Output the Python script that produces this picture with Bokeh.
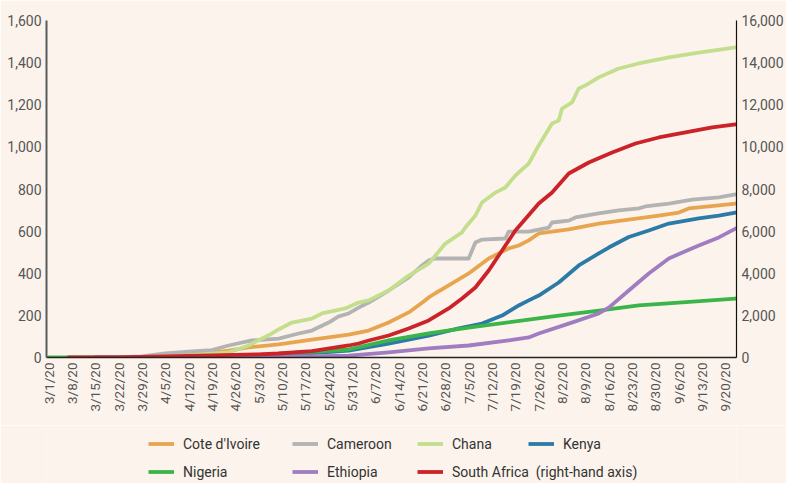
import math
from bokeh.plotting import figure
from bokeh.layouts import column
from bokeh.models import (Range1d, LinearAxis, FixedTicker, NumeralTickFormatter,
                          Legend, LegendItem)
from bokeh.embed import file_html
from bokeh.resources import INLINE

# ---------------- data (day index from 3/1/2020) ----------------
tick_days = list(range(0, 204, 7))
tick_labels = ["3/1/20", "3/8/20", "3/15/20", "3/22/20", "3/29/20", "4/5/20", "4/12/20",
               "4/19/20", "4/26/20", "5/3/20", "5/10/20", "5/17/20", "5/24/20", "5/31/20",
               "6/7/20", "6/14/20", "6/21/20", "6/28/20", "7/5/20", "7/12/20", "7/19/20",
               "7/26/20", "8/2/20", "8/9/20", "8/16/20", "8/23/20", "8/30/20", "9/6/20",
               "9/13/20", "9/20/20"]

cote_days = [14, 21, 28, 35, 42, 49, 54, 60, 69, 79, 90, 96, 102, 108, 112, 114, 116, 120, 126,
             132, 138, 141, 144, 147, 156, 165, 174, 183, 189, 192, 201, 206]
cote_vals = [0, 0, 2, 8, 15, 22, 33, 48, 62, 85, 109, 128, 166, 214, 260, 285, 305, 342, 399,
             470, 518, 532, 556, 589, 608, 636, 655, 674, 688, 708, 722, 731]

cameroon_days = [14, 21, 28, 35, 42, 49, 54, 61, 69, 75, 79, 84, 87, 90, 93, 96, 102, 108, 112,
                 114, 116, 126, 128, 130, 137, 138, 144, 150, 151, 156, 158, 165, 171, 177, 179,
                 186, 193, 201, 206]
cameroon_vals = [0, 0, 5, 20, 28, 35, 57, 81, 90, 114, 128, 166, 195, 209, 237, 261, 318, 380, 437,
                 461, 470, 470, 546, 560, 565, 598, 598, 617, 641, 650, 665, 684, 698, 708, 717,
                 731, 750, 760, 774]

ghana_days = [14, 28, 35, 42, 49, 54, 60, 67, 69, 73, 79, 82, 89, 93, 96, 102, 108, 114, 119, 124,
              125, 128, 130, 134, 137, 140, 144, 147, 151, 153, 154, 157, 159, 161, 165, 171, 177,
              186, 195, 206]
ghana_vals = [0, 0, 5, 10, 18, 24, 57, 114, 133, 166, 185, 209, 233, 261, 271, 318, 389, 446, 541,
              594, 617, 674, 736, 783, 807, 864, 921, 1007, 1111, 1125, 1182, 1211, 1277, 1292,
              1330, 1372, 1396, 1425, 1448, 1472]

kenya_days = [14, 35, 49, 63, 77, 90, 102, 114, 123, 130, 136, 141, 144, 147, 153, 159, 165, 168,
              174, 180, 186, 195, 201, 206]
kenya_vals = [0, 0, 5, 10, 18, 33, 66, 104, 138, 161, 199, 247, 271, 294, 356, 437, 494, 522,
              572, 603, 636, 660, 674, 688]

nigeria_days = [0, 35, 49, 63, 77, 90, 102, 114, 126, 144, 153, 165, 177, 189, 206]
nigeria_vals = [0, 0, 5, 12, 25, 38, 81, 114, 142, 180, 199, 223, 247, 261, 280]

ethiopia_days = [14, 42, 63, 77, 90, 102, 114, 126, 138, 144, 147, 156, 165, 168, 174, 180, 186,
                 192, 195, 201, 206]
ethiopia_vals = [0, 0, 3, 5, 9, 24, 43, 57, 81, 95, 114, 161, 209, 237, 318, 399, 470, 512, 532,
                 570, 612]

safrica_days = [6, 21, 35, 49, 63, 69, 79, 90, 93, 96, 102, 108, 114, 120, 124, 128, 132, 136,
                140, 147, 151, 156, 162, 169, 176, 183, 191, 199, 206]
safrica_vals = [0, 0, 50, 100, 150, 190, 300, 570, 665, 807, 1045, 1377, 1757, 2327, 2800, 3324,
                4130, 5080, 6030, 7312, 7835, 8737, 9260, 9734, 10161, 10446, 10684, 10921, 11064]

left_ticks = [0, 200, 400, 600, 800, 1000, 1200, 1400, 1600]
right_ticks = [0, 2000, 4000, 6000, 8000, 10000, 12000, 14000, 16000]

# ---------------- main figure ----------------
FONT = "Roboto"
TXT = "#555555"
BG = "#fcf4ec"

p = figure(width=786, height=425, output_backend="svg", toolbar_location=None,
           x_range=Range1d(-0.6, 206.3), y_range=Range1d(0, 1600),
           min_border_left=46, min_border_right=47, min_border_top=20, min_border_bottom=68,
           background_fill_color=BG, border_fill_color=BG, outline_line_color=None)
p.grid.visible = False
p.extra_y_ranges = {"right": Range1d(0, 16000)}

xa = p.xaxis[0]
xa.ticker = FixedTicker(ticks=tick_days)
xa.major_label_overrides = {d: l for d, l in zip(tick_days, tick_labels)}
xa.major_label_orientation = math.pi / 2
xa.axis_line_color = "#222222"
xa.axis_line_width = 1.5

ya = p.yaxis[0]
ya.ticker = FixedTicker(ticks=left_ticks)
ya.formatter = NumeralTickFormatter(format="0,0")
ya.axis_line_color = "#5a5a5a"
ya.axis_line_width = 2

ra = LinearAxis(y_range_name="right", ticker=FixedTicker(ticks=right_ticks),
                formatter=NumeralTickFormatter(format="0,0"))
ra.axis_line_color = "#111111"
ra.axis_line_width = 1.2
p.add_layout(ra, "right")

for ax in [xa, ya, ra]:
    ax.major_tick_in = 0
    ax.major_tick_out = 0
    ax.minor_tick_in = 0
    ax.minor_tick_out = 0
    ax.axis_label_standoff = 0
    ax.major_label_text_font = FONT
    ax.major_label_text_font_size = "14px"
    ax.major_label_text_color = TXT
    ax.major_label_standoff = 5
xa.major_label_text_font_size = "13.5px"

LW = 3.8
series = [
    ("Cote d'Ivoire", cote_days, cote_vals, "#e8a54f", "default"),
    ("Cameroon", cameroon_days, cameroon_vals, "#b3b3b3", "default"),
    ("Chana", ghana_days, ghana_vals, "#c3df8e", "default"),
    ("Kenya", kenya_days, kenya_vals, "#2c7aa7", "default"),
    ("Nigeria", nigeria_days, nigeria_vals, "#3bb54a", "default"),
    ("Ethiopia", ethiopia_days, ethiopia_vals, "#a07dc0", "default"),
    ("South Africa\u00a0 (right-hand axis)", safrica_days, safrica_vals, "#cc2229", "right"),
]

for name, xs, ys, col, rng in series:
    p.line(xs, ys, line_color=col, line_width=LW, y_range_name=rng,
           line_join="round", line_cap="round")

# ---------------- legend strip (frame is aligned with the main frame, left = 46) ----------------
lf = figure(width=786, height=58, output_backend="svg", toolbar_location=None,
            x_axis_type=None, y_axis_type=None,
            x_range=Range1d(0, 786), y_range=Range1d(0, 58),
            min_border=0, background_fill_color=BG, border_fill_color=BG,
            outline_line_color=None)
lf.grid.visible = False

legend_pos = [(102, 31), (246, 31), (371, 31), (482, 31), (102, 3), (246, 3), (371, 3)]
for (name, xs, ys, col, rng), (vx, vy) in zip(series, legend_pos):
    # off-screen sample line that only feeds the legend glyph
    r = lf.line([-50, -40], [-50, -50], line_color=col, line_width=LW)
    lg = Legend(items=[LegendItem(label=name, renderers=[r])],
                location=(vx, vy), padding=0, margin=0, spacing=0,
                glyph_width=26, glyph_height=17, label_standoff=9, label_height=17,
                border_line_color=None, background_fill_alpha=0,
                label_text_font=FONT, label_text_font_size="14px",
                label_text_color="#333333")
    lf.add_layout(lg, "center")

layout = column(p, lf, spacing=0)
open("out.html", "w").write(file_html(layout, INLINE))
